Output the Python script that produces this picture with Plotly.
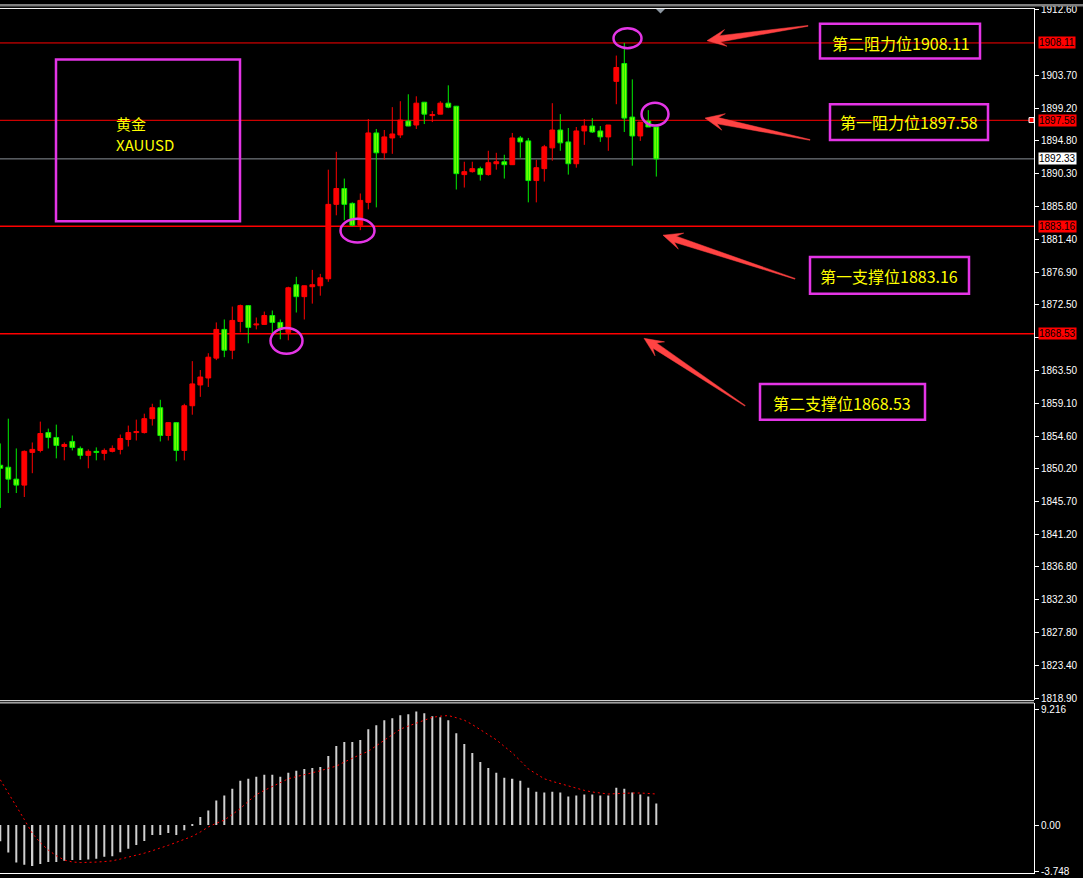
import math
import plotly.graph_objects as go

W, H = 1083, 878
PLOT_RIGHT = 1034  # px, right edge of plotting area

# ---------------- data ----------------
opens = [1850.63, 1850.36, 1848.74, 1847.93, 1852.38, 1852.65, 1855.08, 1854.41, 1853.19, 1853.87,
         1852.92, 1851.98, 1852.52, 1852.25, 1852.52, 1852.79, 1854.14, 1855.08, 1855.08, 1856.97,
         1858.46, 1854.68, 1856.43, 1852.65, 1858.73, 1861.56, 1862.51, 1865.21, 1869.12, 1866.29,
         1870.20, 1872.36, 1869.73, 1869.80, 1871.01, 1870.07, 1868.72, 1875.20, 1873.58, 1874.93,
         1875.06, 1876.01, 1886.14, 1888.30, 1886.27, 1883.30, 1886.41, 1895.86, 1893.16, 1895.18,
         1895.59, 1897.48, 1896.94, 1900.04, 1898.22, 1898.42, 1899.91, 1899.50, 1890.19, 1890.59,
         1891.00, 1890.19, 1891.67, 1891.94, 1891.54, 1895.18, 1894.78, 1889.38, 1891.00, 1893.83,
         1896.26, 1894.64, 1891.67, 1896.13, 1896.80, 1896.13, 1895.32, 1902.88, 1905.31, 1898.02,
         1895.45, 1897.48, 1896.67]
highs = [1853.60, 1856.97, 1852.92, 1852.65, 1853.73, 1856.57, 1855.62, 1856.16, 1853.73, 1854.68,
         1853.19, 1852.79, 1853.06, 1852.92, 1853.33, 1854.81, 1856.03, 1856.84, 1857.65, 1859.00,
         1859.54, 1856.43, 1856.43, 1859.00, 1864.80, 1863.59, 1865.88, 1870.07, 1870.47, 1872.23,
         1872.50, 1872.36, 1870.74, 1871.55, 1871.69, 1870.47, 1874.93, 1876.28, 1875.06, 1877.22,
         1876.68, 1890.86, 1893.29, 1889.65, 1886.41, 1887.62, 1897.75, 1896.40, 1896.26, 1899.37,
         1900.18, 1901.12, 1900.85, 1900.04, 1898.83, 1900.18, 1902.34, 1899.50, 1891.94, 1891.94,
         1891.27, 1893.43, 1893.16, 1892.89, 1895.86, 1895.45, 1895.18, 1892.21, 1894.24, 1899.91,
         1898.42, 1896.53, 1896.67, 1897.75, 1897.88, 1896.80, 1896.94, 1906.39, 1908.11, 1903.15,
         1897.34, 1898.96, 1896.67]
lows = [1844.82, 1846.85, 1846.85, 1846.31, 1849.55, 1852.38, 1852.92, 1851.57, 1851.30, 1852.65,
        1851.44, 1850.22, 1851.30, 1851.30, 1852.38, 1852.11, 1853.19, 1854.00, 1854.95, 1856.03,
        1853.87, 1854.00, 1851.17, 1851.30, 1857.51, 1859.94, 1861.29, 1864.94, 1865.34, 1865.07,
        1868.72, 1867.23, 1869.12, 1869.80, 1868.58, 1867.77, 1867.64, 1871.42, 1870.47, 1872.63,
        1873.71, 1875.60, 1884.65, 1883.98, 1883.17, 1882.63, 1885.46, 1885.73, 1892.21, 1893.02,
        1895.18, 1896.80, 1896.40, 1897.07, 1897.34, 1898.42, 1899.23, 1888.16, 1888.43, 1890.46,
        1889.38, 1890.05, 1890.86, 1889.65, 1891.54, 1892.48, 1886.41, 1886.41, 1889.24, 1892.08,
        1893.43, 1890.19, 1891.13, 1894.24, 1895.86, 1894.64, 1893.43, 1899.77, 1895.99, 1891.40,
        1894.78, 1896.67, 1889.92]
closes = [1850.22, 1848.74, 1847.93, 1852.52, 1852.79, 1854.95, 1854.41, 1853.33, 1853.46, 1853.06,
          1851.98, 1852.52, 1852.38, 1852.65, 1852.92, 1854.27, 1855.08, 1855.22, 1856.97, 1858.46,
          1854.68, 1856.43, 1852.65, 1858.73, 1861.70, 1862.64, 1865.34, 1869.12, 1866.29, 1870.34,
          1872.36, 1869.39, 1869.87, 1871.01, 1870.07, 1869.26, 1874.79, 1873.58, 1875.06, 1875.20,
          1876.14, 1886.14, 1888.30, 1886.14, 1883.30, 1886.68, 1895.86, 1893.16, 1895.32, 1895.72,
          1897.61, 1896.80, 1899.91, 1898.42, 1898.36, 1899.91, 1899.37, 1890.32, 1890.59, 1891.00,
          1890.19, 1891.81, 1891.94, 1891.54, 1895.18, 1894.64, 1889.38, 1891.13, 1893.97, 1896.26,
          1894.51, 1891.67, 1896.13, 1896.80, 1895.99, 1895.32, 1896.94, 1904.77, 1897.88, 1895.45,
          1897.34, 1896.67, 1892.33]

macd_hist = [-1.30, -2.20, -3.00, -3.18, -3.28, -3.12, -2.96, -2.96, -2.86, -2.80,
             -2.80, -2.75, -2.70, -2.54, -2.49, -2.17, -1.90, -1.59, -1.27, -0.79,
             -0.79, -0.64, -0.79, -0.42, 0.05, 0.64, 1.17, 1.96, 2.36, 2.92,
             3.55, 3.71, 3.87, 4.03, 4.03, 3.87, 4.19, 4.35, 4.50, 4.58,
             4.66, 5.54, 6.33, 6.65, 6.65, 6.81, 7.68, 8.00, 8.40, 8.55,
             8.79, 8.87, 9.10, 8.95, 8.71, 8.63, 8.40, 7.36, 6.49, 5.78,
             5.06, 4.58, 4.19, 3.79, 3.71, 3.55, 2.99, 2.67, 2.60, 2.67,
             2.60, 2.28, 2.36, 2.44, 2.44, 2.36, 2.36, 2.99, 2.92, 2.60,
             2.44, 2.28, 1.72]
macd_signal = [3.63, 2.60, 1.56, 0.45, -0.66, -1.40, -2.00, -2.45, -2.80, -2.95,
               -3.00, -3.00, -2.96, -2.92, -2.86, -2.72, -2.57, -2.42, -2.25, -2.05,
               -1.85, -1.62, -1.38, -1.15, -0.90, -0.55, -0.15, 0.15, 0.40, 0.85,
               1.33, 1.90, 2.44, 2.78, 3.10, 3.42, 3.71, 3.88, 4.03, 4.20,
               4.35, 4.55, 4.72, 5.05, 5.38, 5.65, 5.91, 6.35, 6.78, 7.25,
               7.68, 7.93, 8.16, 8.42, 8.63, 8.72, 8.77, 8.60, 8.40, 8.05,
               7.66, 7.25, 6.83, 6.30, 5.78, 5.15, 4.50, 4.10, 3.71, 3.50,
               3.31, 3.10, 2.92, 2.78, 2.65, 2.57, 2.49, 2.52, 2.57, 2.57,
               2.57, 2.53, 2.49]

price_ticks = [1912.60, 1903.70, 1899.20, 1894.80, 1890.30, 1885.80, 1881.40, 1876.90,
               1872.50, 1868.00, 1863.50, 1859.10, 1854.60, 1850.20, 1845.70, 1841.20,
               1836.80, 1832.30, 1827.80, 1823.40, 1818.90]
# the 1868.00 label sits under the 1868.53 level tag in the original, so only its tick shows
price_tick_text = ["" if abs(v - 1868.00) < 1e-6 else f"{v:.2f}" for v in price_ticks]
macd_ticks = [9.216, 0.0, -3.748]
macd_tick_text = ["9.216", "0.00", "-3.748"]

level_values = [1908.11, 1897.58, 1883.16, 1868.53]
level_widths = [1, 1, 1.4, 1.4]
level_texts = ["第二阻力位1908.11", "第一阻力位1897.58", "第一支撑位1883.16", "第二支撑位1868.53"]
bid_value = 1892.33
symbol_lines = ["黄金", "XAUUSD"]

# ---------------- styling helpers ----------------
UP_COL = "#FF0000"
DN_FILL = "#80FF00"
DN_LINE = "#00EE00"
MAGENTA = "#E435E6"
ARROW_COL = "#FF4343"
TEXT_YEL = "#FFFF00"


def fx(px):
    return px / W


def fy(py):
    return 1 - py / H


n = len(opens)
idx = list(range(n))
up = [c >= o for o, c in zip(opens, closes)]

body_base = [min(o, c) for o, c in zip(opens, closes)]
body_h = [max(abs(c - o), 0.07) for o, c in zip(opens, closes)]


def wick_xy(want_up):
    xs, ys = [], []
    for i in idx:
        if up[i] == want_up:
            xs += [i, i, None]
            ys += [lows[i], highs[i], None]
    return xs, ys


fig = go.Figure()

shapes = []
for v, lw in zip(level_values, level_widths):
    shapes.append(dict(type="line", xref="x domain", yref="y", x0=0, x1=1, y0=v, y1=v,
                       line=dict(color="#FF0000", width=lw), layer="below"))
shapes.append(dict(type="line", xref="x domain", yref="y", x0=0, x1=1, y0=bid_value, y1=bid_value,
                   line=dict(color="#8A9099", width=1), layer="below"))

ux, uy = wick_xy(True)
dx, dy = wick_xy(False)
fig.add_trace(go.Scatter(x=ux, y=uy, mode="lines", line=dict(color=UP_COL, width=1),
                         hoverinfo="skip", xaxis="x", yaxis="y"))
fig.add_trace(go.Scatter(x=dx, y=dy, mode="lines", line=dict(color=DN_LINE, width=1),
                         hoverinfo="skip", xaxis="x", yaxis="y"))
fig.add_trace(go.Bar(x=idx, y=body_h, base=body_base, width=0.6,
                     marker=dict(color=[UP_COL if u else DN_FILL for u in up],
                                 line=dict(color=[UP_COL if u else DN_LINE for u in up], width=1)),
                     xaxis="x", yaxis="y"))

# MACD pane
fig.add_trace(go.Bar(x=idx, y=macd_hist, width=0.25, marker=dict(color="#D0D0D0", line=dict(width=0)),
                     xaxis="x2", yaxis="y2"))
fig.add_trace(go.Scatter(x=idx, y=macd_signal, mode="lines",
                         line=dict(color="#FF0000", width=1, dash="2px,3px"),
                         xaxis="x2", yaxis="y2"))

# ---------------- axes ----------------
xr = [(0 - 0.3) / 8, (PLOT_RIGHT - 0.3) / 8]
xdom = [0, PLOT_RIGHT / W]
price_top, price_bot = 4.5, 702
macd_top, macd_bot = 704.5, 876.5


def price_at(py):
    return 1913.41 - 0.13502 * py


def macd_at(py):
    return (827.7 - py) / 12.59


tickfont = dict(color="#FFFFFF", size=10, family="Liberation Sans, Arial")
common_x = dict(range=xr, domain=xdom, showgrid=False, zeroline=False, showticklabels=False,
                showline=False, ticks="")
fig.update_layout(
    width=W, height=H, margin=dict(l=0, r=0, t=0, b=0),
    paper_bgcolor="#000000", plot_bgcolor="#000000", showlegend=False, barmode="overlay",
    xaxis=dict(**common_x, anchor="y"),
    xaxis2=dict(**common_x, anchor="y2"),
    yaxis=dict(domain=[fy(price_bot), fy(price_top)], range=[price_at(price_bot), price_at(price_top)],
               side="right", anchor="x", showgrid=False, zeroline=False, showline=True,
               linecolor="#FFFFFF", linewidth=1, ticks="outside", ticklen=4, tickcolor="#FFFFFF",
               tickvals=price_ticks, ticktext=price_tick_text, tickfont=tickfont),
    yaxis2=dict(domain=[fy(macd_bot), fy(macd_top)], range=[macd_at(macd_bot), macd_at(macd_top)],
                side="right", anchor="x2", showgrid=False, zeroline=False, showline=True,
                linecolor="#FFFFFF", linewidth=1, ticks="outside", ticklen=4, tickcolor="#FFFFFF",
                tickvals=macd_ticks, ticktext=macd_tick_text, tickfont=tickfont),
)

# ---------------- frame lines ----------------
shapes.append(dict(type="rect", xref="paper", yref="paper", x0=0, x1=1, y0=fy(2.5), y1=fy(0),
                   fillcolor="#7F7F7F", line=dict(width=0)))
for yy in [4.5, 702.3, 704.5, 876.5]:
    shapes.append(dict(type="line", xref="paper", yref="paper", x0=0, x1=fx(PLOT_RIGHT),
                       y0=fy(yy), y1=fy(yy), line=dict(color="#FFFFFF", width=1)))
shapes.append(dict(type="path", xref="paper", yref="paper",
                   path=f"M {fx(656)} {fy(5)} L {fx(665)} {fy(5)} L {fx(660.5)} {fy(9.5)} Z",
                   fillcolor="#8C96A0", line=dict(width=0)))
shapes.append(dict(type="rect", xref="paper", yref="paper", x0=fx(1029), x1=fx(1034),
                   y0=fy(119.5), y1=fy(114.5), fillcolor="#FF0000", line=dict(color="#FFFFFF", width=1)))


def rect(x0, y0, x1, y1):
    return dict(type="rect", xref="paper", yref="paper", x0=fx(x0), x1=fx(x1), y0=fy(y1), y1=fy(y0),
                line=dict(color=MAGENTA, width=2.5))


def ellipse(cx, cy, rx, ry):
    return dict(type="circle", xref="paper", yref="paper", x0=fx(cx - rx), x1=fx(cx + rx),
                y0=fy(cy + ry), y1=fy(cy - ry), line=dict(color=MAGENTA, width=2.5))


shapes += [rect(56, 56, 240, 219), rect(820, 20, 980, 55), rect(830, 101, 988, 137),
           rect(810, 255, 969, 292), rect(760, 383, 925, 419)]
shapes += [ellipse(627.5, 34.5, 14, 10), ellipse(655, 111, 13.5, 11.5),
           ellipse(357.5, 228.5, 17, 12), ellipse(286.5, 339.5, 16, 13)]


def arrow(tip, tail, head_len=19, head_w=8.5, neck_back=13, neck_w=3.2):
    tx, ty = tip
    bx, by = tail
    L = math.hypot(bx - tx, by - ty)
    ux_, uy_ = (bx - tx) / L, (by - ty) / L
    nx_, ny_ = -uy_, ux_
    pts = [
        (tx, ty),
        (tx + ux_ * head_len + nx_ * head_w, ty + uy_ * head_len + ny_ * head_w),
        (tx + ux_ * neck_back + nx_ * neck_w, ty + uy_ * neck_back + ny_ * neck_w),
        (bx + nx_ * 0.4, by + ny_ * 0.4),
        (bx - nx_ * 0.4, by - ny_ * 0.4),
        (tx + ux_ * neck_back - nx_ * neck_w, ty + uy_ * neck_back - ny_ * neck_w),
        (tx + ux_ * head_len - nx_ * head_w, ty + uy_ * head_len - ny_ * head_w),
    ]
    path = "M " + " L ".join(f"{fx(x):.5f} {fy(y):.5f}" for x, y in pts) + " Z"
    return dict(type="path", xref="paper", yref="paper", path=path,
                fillcolor=ARROW_COL, line=dict(color=ARROW_COL, width=0.5))


shapes += [arrow((707, 37), (808, 22)), arrow((705, 115), (810, 137)),
           arrow((663, 233), (795, 277)), arrow((644, 337), (745, 405))]

annotations = []
cjk = "Noto Sans CJK SC, Noto Sans, sans-serif"
annotations.append(dict(xref="paper", yref="paper", x=fx(114), y=fy(120), text=symbol_lines[0],
                        showarrow=False, xanchor="left", yanchor="middle",
                        font=dict(color=TEXT_YEL, size=15, family=cjk)))
annotations.append(dict(xref="paper", yref="paper", x=fx(114), y=fy(142), text=symbol_lines[1],
                        showarrow=False, xanchor="left", yanchor="middle",
                        font=dict(color=TEXT_YEL, size=15, family=cjk)))
box_centers = [(901, 39), (909, 119), (889, 274), (842, 402)]
for (cx, cy), t in zip(box_centers, level_texts):
    annotations.append(dict(xref="paper", yref="paper", x=fx(cx), y=fy(cy), text=t, showarrow=False,
                            xanchor="center", yanchor="middle",
                            font=dict(color=TEXT_YEL, size=16, family=cjk)))

for v in level_values:
    annotations.append(dict(xref="paper", yref="y", x=fx(1038), y=v, text=f"{v:.2f}", showarrow=False,
                            xanchor="left", yanchor="middle", bgcolor="#FF0000", borderpad=0,
                            font=dict(color="#000000", size=10, family="Liberation Sans, Arial")))
annotations.append(dict(xref="paper", yref="y", x=fx(1038), y=bid_value, text=f"{bid_value:.2f}",
                        showarrow=False, xanchor="left", yanchor="middle", bgcolor="#FFFFFF",
                        borderpad=0, font=dict(color="#000000", size=10, family="Liberation Sans, Arial")))

fig.update_layout(shapes=shapes, annotations=annotations)
fig.write_html("out.html", config={"displayModeBar": False},
               post_script="document.body.style.margin='0';document.body.style.overflow='hidden';")
